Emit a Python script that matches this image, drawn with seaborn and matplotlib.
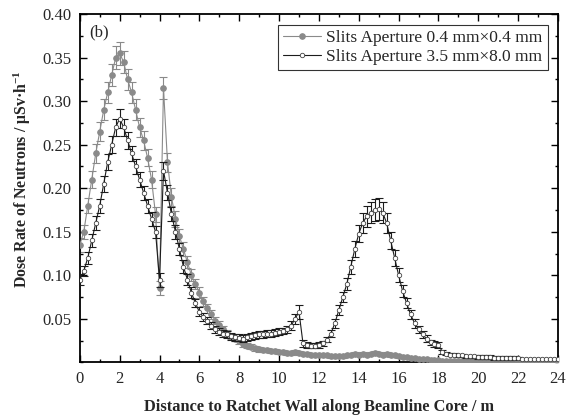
import numpy as np
import pandas as pd
import matplotlib
matplotlib.use("Agg")
import matplotlib.pyplot as plt
from matplotlib.ticker import MultipleLocator, FixedLocator
import seaborn as sns

# measurement positions along the beamline core (m)
distance = [
    0.0, 0.2, 0.4, 0.6, 0.8, 1.0, 1.2, 1.4, 1.6, 1.8,
    2.0, 2.2, 2.4, 2.6, 2.8, 3.0, 3.2, 3.4, 3.6, 3.8,
    4.0, 4.2, 4.4, 4.6, 4.8, 5.0, 5.2, 5.4, 5.6, 5.8,
    6.0, 6.2, 6.4, 6.6, 6.8, 7.0, 7.2, 7.4, 7.6, 7.8,
    8.0, 8.2, 8.4, 8.6, 8.8, 9.0, 9.2, 9.4, 9.6, 9.8,
    10.0, 10.2, 10.4, 10.6, 10.8, 11.0, 11.2, 11.4, 11.6, 11.8,
    12.0, 12.2, 12.4, 12.6, 12.8, 13.0, 13.2, 13.4, 13.6, 13.8,
    14.0, 14.2, 14.4, 14.6, 14.8, 15.0, 15.2, 15.4, 15.6, 15.8,
    16.0, 16.2, 16.4, 16.6, 16.8, 17.0, 17.2, 17.4, 17.6, 17.8,
    18.0, 18.2, 18.4, 18.6, 18.8, 19.0, 19.2, 19.4, 19.6, 19.8,
    20.0, 20.2, 20.4, 20.6, 20.8, 21.0, 21.2, 21.4, 21.6, 21.8,
    22.0, 22.2, 22.4, 22.6, 22.8, 23.0, 23.2, 23.4, 23.6, 23.8,
    24.0,
]

# slits 0.4 mm x 0.4 mm
dose_small = [
    0.135, 0.150, 0.180, 0.210, 0.240, 0.265, 0.290, 0.310, 0.330, 0.350,
    0.355, 0.345, 0.325, 0.310, 0.290, 0.270, 0.255, 0.235, 0.210, 0.170,
    0.085, 0.315, 0.230, 0.190, 0.165, 0.145, 0.130, 0.115, 0.100, 0.090,
    0.080, 0.070, 0.062, 0.055, 0.048, 0.043, 0.038, 0.034, 0.030, 0.027,
    0.024, 0.021, 0.019, 0.018, 0.016, 0.015, 0.014, 0.014, 0.013, 0.013,
    0.012, 0.012, 0.011, 0.011, 0.012, 0.011, 0.010, 0.010, 0.009, 0.009,
    0.008, 0.008, 0.008, 0.007, 0.007, 0.007, 0.007, 0.008, 0.009, 0.010,
    0.009, 0.010, 0.009, 0.010, 0.011, 0.010, 0.009, 0.010, 0.008, 0.008,
    0.007, 0.006, 0.006, 0.005, 0.005, 0.004, 0.004, 0.004, 0.003, 0.003,
    0.003, 0.002, 0.002, 0.002, 0.002, 0.002, 0.002, 0.002, 0.002, 0.002,
    0.002, 0.002, 0.002, 0.002, 0.002, 0.002, 0.002, 0.002, 0.002, 0.002,
    0.002, 0.002, 0.002, 0.002, 0.002, 0.002, 0.002, 0.002, 0.002, 0.002,
    0.002,
]
err_small = [
    0.008, 0.008, 0.009, 0.010, 0.011, 0.011, 0.012, 0.012, 0.013, 0.013,
    0.013, 0.013, 0.012, 0.012, 0.012, 0.011, 0.011, 0.010, 0.010, 0.009,
    0.008, 0.013, 0.011, 0.010, 0.009, 0.008, 0.008, 0.007, 0.007, 0.006,
    0.006, 0.005, 0.005, 0.005, 0.004, 0.004, 0.004, 0.003, 0.003, 0.003,
    0.003, 0.003, 0.003, 0.003, 0.003, 0.003, 0.002, 0.002, 0.002, 0.002,
    0.002, 0.002, 0.002, 0.002, 0.002, 0.002, 0.002, 0.002, 0.002, 0.002,
    0.002, 0.002, 0.002, 0.002, 0.002, 0.002, 0.002, 0.002, 0.002, 0.002,
    0.002, 0.002, 0.002, 0.002, 0.002, 0.002, 0.002, 0.002, 0.002, 0.002,
    0.002, 0.001, 0.001, 0.001, 0.001, 0.001, 0.001, 0.001, 0.001, 0.001,
    0.001, 0.001, 0.001, 0.001, 0.001, 0.001, 0.001, 0.001, 0.001, 0.001,
    0.001, 0.001, 0.001, 0.001, 0.001, 0.001, 0.001, 0.001, 0.001, 0.001,
    0.001, 0.001, 0.001, 0.001, 0.001, 0.001, 0.001, 0.001, 0.001, 0.001,
    0.001,
]

# slits 3.5 mm x 8.0 mm
dose_large = [
    0.095, 0.105, 0.120, 0.140, 0.160, 0.180, 0.205, 0.230, 0.250, 0.270,
    0.280, 0.270, 0.255, 0.240, 0.225, 0.210, 0.195, 0.180, 0.165, 0.150,
    0.095, 0.220, 0.195, 0.170, 0.150, 0.130, 0.110, 0.095, 0.080, 0.068,
    0.058, 0.052, 0.048, 0.042, 0.038, 0.035, 0.033, 0.032, 0.030, 0.029,
    0.028, 0.027, 0.029, 0.030, 0.031, 0.032, 0.032, 0.033, 0.033, 0.034,
    0.035, 0.036, 0.038, 0.042, 0.050, 0.058, 0.022, 0.020, 0.019, 0.019,
    0.020, 0.022, 0.026, 0.033, 0.045, 0.060, 0.075, 0.090, 0.110, 0.130,
    0.148, 0.160, 0.168, 0.172, 0.175, 0.176, 0.172, 0.160, 0.140, 0.120,
    0.100, 0.082, 0.068, 0.055, 0.045, 0.038, 0.032, 0.027, 0.023, 0.021,
    0.020, 0.012, 0.010, 0.009, 0.009, 0.008, 0.008, 0.007, 0.007, 0.007,
    0.006, 0.006, 0.006, 0.006, 0.005, 0.005, 0.005, 0.005, 0.005, 0.005,
    0.005, 0.004, 0.004, 0.004, 0.004, 0.004, 0.004, 0.004, 0.004, 0.004,
    0.004,
]
err_large = [
    0.006, 0.006, 0.007, 0.007, 0.008, 0.008, 0.009, 0.009, 0.010, 0.010,
    0.011, 0.010, 0.010, 0.009, 0.009, 0.009, 0.008, 0.008, 0.008, 0.007,
    0.008, 0.010, 0.009, 0.008, 0.008, 0.007, 0.007, 0.006, 0.006, 0.005,
    0.005, 0.005, 0.004, 0.004, 0.004, 0.004, 0.004, 0.004, 0.004, 0.004,
    0.004, 0.004, 0.004, 0.004, 0.004, 0.004, 0.004, 0.004, 0.004, 0.004,
    0.004, 0.004, 0.004, 0.005, 0.006, 0.008, 0.004, 0.003, 0.003, 0.003,
    0.003, 0.003, 0.003, 0.004, 0.005, 0.006, 0.006, 0.007, 0.008, 0.009,
    0.010, 0.011, 0.012, 0.012, 0.013, 0.013, 0.012, 0.011, 0.010, 0.009,
    0.008, 0.007, 0.006, 0.005, 0.005, 0.004, 0.004, 0.004, 0.003, 0.003,
    0.003, 0.002, 0.002, 0.002, 0.002, 0.002, 0.002, 0.002, 0.002, 0.002,
    0.002, 0.002, 0.002, 0.002, 0.002, 0.002, 0.002, 0.002, 0.002, 0.002,
    0.001, 0.001, 0.001, 0.001, 0.001, 0.001, 0.001, 0.001, 0.001, 0.001,
    0.001,
]

labels = ["Slits Aperture 0.4 mm×0.4 mm", "Slits Aperture 3.5 mm×8.0 mm"]

sns.set_theme(style="ticks")
plt.rcParams["font.family"] = ["Liberation Serif", "DejaVu Serif"]
plt.rcParams["mathtext.fontset"] = "custom"
plt.rcParams["mathtext.rm"] = "Liberation Serif"
plt.rcParams["mathtext.bf"] = "Liberation Serif:bold"

df_small = pd.DataFrame({"x": distance, "y": dose_small})
df_large = pd.DataFrame({"x": distance, "y": dose_large})

fig = plt.figure(figsize=(5.7, 4.16), dpi=100)
ax = fig.add_axes([0.140, 0.129, 0.839, 0.837])

grey = "#8a8a8a"
dark = "#1c1c1c"

# grey series first, black one on top
ax.errorbar(distance, dose_small, yerr=err_small, fmt="none", ecolor=grey,
            elinewidth=0.8, capsize=3, capthick=0.8, zorder=2)
sns.lineplot(data=df_small, x="x", y="y", ax=ax, color=grey, lw=0.8,
             marker="o", markersize=4, markerfacecolor=grey,
             markeredgecolor=grey, estimator=None, sort=False,
             label=labels[0], zorder=3)

ax.errorbar(distance, dose_large, yerr=err_large, fmt="none", ecolor=dark,
            elinewidth=0.8, capsize=3, capthick=0.8, zorder=4)
sns.lineplot(data=df_large, x="x", y="y", ax=ax, color=dark, lw=0.8,
             marker="o", markersize=3.2, markerfacecolor="white",
             markeredgecolor="#444444", markeredgewidth=0.6,
             estimator=None, sort=False, label=labels[1], zorder=5)

ax.set_xlim(0, 24)
ax.set_ylim(0, 0.40)
ax.xaxis.set_major_locator(MultipleLocator(2))
ax.xaxis.set_minor_locator(MultipleLocator(1))
ax.yaxis.set_major_locator(FixedLocator([0.05, 0.10, 0.15, 0.20, 0.25, 0.30, 0.35, 0.40]))
ax.yaxis.set_minor_locator(MultipleLocator(0.025))
ax.yaxis.set_major_formatter(matplotlib.ticker.FormatStrFormatter("%.2f"))

ax.tick_params(which="both", direction="in", top=True, right=True,
               labelsize=12, color="black", width=1.0)
ax.tick_params(which="major", length=5, pad=6)
ax.tick_params(which="minor", length=2.5)
for s in ax.spines.values():
    s.set_linewidth(1.3)
    s.set_color("black")

ax.set_xlabel("Distance to Ratchet Wall along Beamline Core / m",
              fontsize=11.8, fontweight="bold", labelpad=9)
ax.set_ylabel(r"Dose Rate of Neutrons / μSv·h$\mathbf{^{-1}}$",
              fontsize=11.4, fontweight="bold")
ax.yaxis.set_label_coords(-0.098, 0.525)

ax.text(0.02, 0.948, "(b)", transform=ax.transAxes, fontsize=12,
        va="center", ha="left")

leg = ax.legend(loc="upper right", fontsize=12.5, frameon=True, fancybox=False,
                edgecolor="black", handlelength=2.2, borderaxespad=0.6,
                borderpad=0.3, labelspacing=0.15, handletextpad=0.3)
leg.get_frame().set_linewidth(0.8)

fig.savefig("out.png", dpi=100)
